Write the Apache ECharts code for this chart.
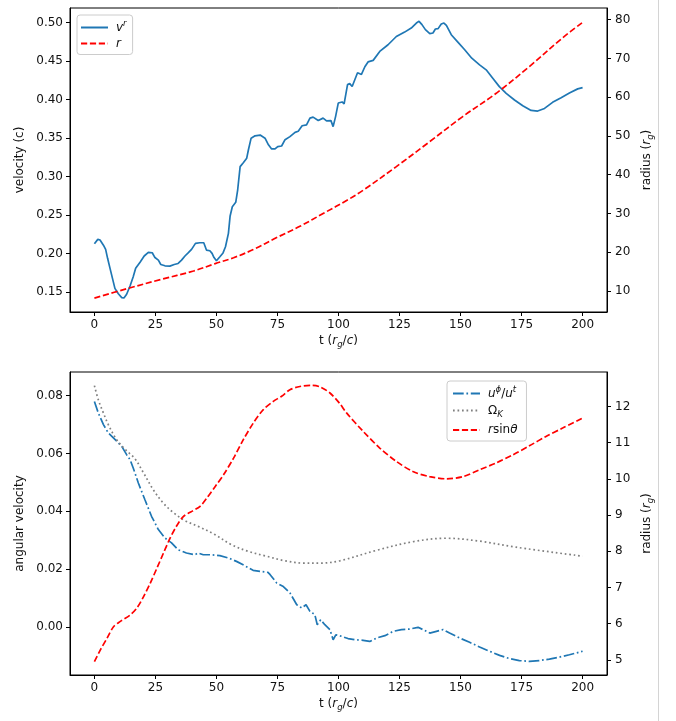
<!DOCTYPE html>
<html>
<head>
<meta charset="utf-8">
<script src="https://cdn.jsdelivr.net/npm/echarts@6/dist/echarts.min.js"></script>
<style>
  html, body { margin: 0; padding: 0; background: #fff; }
  #chart { width: 676px; height: 721px; }
</style>
</head>
<body>
<div id="chart"></div>
<script>
// ---- upper panel: radial velocity and radius vs time ----
const tV = [0, 1.4, 2.3, 3.7, 4.6, 5.4, 6.4, 7.4, 8.4, 9.8,
  11.2, 12.1, 13.2, 14.6, 15.9, 16.9, 18.7, 20.4, 22.1, 23.7,
  24.8, 26.2, 27.2, 28.9, 30.9, 32.7, 34.3, 35.7, 37.1, 38.4,
  39.8, 41.4, 43.2, 44.8, 45.9, 47.3, 48.2, 49.0, 50.0, 51.4,
  52.7, 53.7, 54.9, 55.6, 56.5, 57.9, 58.7, 59.7, 61.0, 62.4,
  63.1, 64.2, 65.8, 67.9, 69.9, 71.3, 72.6, 74.0, 75.1, 76.7,
  78.1, 80.1, 82.2, 83.5, 85.1, 86.9, 88.3, 89.6, 91.7, 93.7,
  95.1, 96.9, 97.8, 98.8, 99.9, 101.5, 102.3, 103.7, 104.6, 105.6,
  107.8, 109.4, 110.8, 112.1, 114.2, 116.9, 120.3, 123.7, 127.1, 129.8,
  131.9, 133.0, 134.2, 135.6, 137.4, 138.7, 139.7, 140.8, 142.1, 143.2,
  144.2, 146.2, 148.9, 151.7, 154.6, 157.8, 160.5, 163.2, 165.9, 168.7,
  172.1, 175.5, 178.9, 181.6, 184.4, 187.7, 191.2, 194.6, 198.0, 200];
const vR = [0.213, 0.2186, 0.2177, 0.211, 0.2056, 0.194, 0.181, 0.168, 0.155, 0.148,
  0.143, 0.1426, 0.1474, 0.158, 0.170, 0.181, 0.189, 0.197, 0.2017, 0.2012,
  0.195, 0.1917, 0.186, 0.1843, 0.1839, 0.186, 0.1873, 0.1917, 0.197, 0.201,
  0.2056, 0.2134, 0.2142, 0.2142, 0.2047, 0.2038, 0.2004, 0.195, 0.1908, 0.196,
  0.201, 0.209, 0.2264, 0.249, 0.261, 0.2667, 0.283, 0.313, 0.318, 0.324,
  0.335, 0.350, 0.353, 0.354, 0.350, 0.3414, 0.336, 0.336, 0.339, 0.3398,
  0.348, 0.352, 0.3575, 0.359, 0.3661, 0.3673, 0.376, 0.3773, 0.373, 0.376,
  0.3724, 0.3728, 0.365, 0.378, 0.3956, 0.397, 0.3944, 0.4195, 0.4208, 0.417,
  0.4349, 0.4327, 0.4427, 0.449, 0.451, 0.4626, 0.4713, 0.482, 0.4877, 0.493,
  0.4995, 0.5017, 0.4974, 0.4909, 0.4857, 0.4865, 0.4917, 0.4922, 0.4982, 0.4995,
  0.4965, 0.4843, 0.4747, 0.4648, 0.4538, 0.4452, 0.4387, 0.4278, 0.4169, 0.4082,
  0.3996, 0.3921, 0.386, 0.3852, 0.3886, 0.3965, 0.4026, 0.4087, 0.414, 0.4156];

const tR = [0, 13.4, 27.0, 40.6, 49.5, 57.0, 65.1, 74.7, 84.2, 93.7,
  104.0, 110.1, 123.7, 137.3, 150.9, 164.6, 178.2, 191.8, 200];
const radius = [8.19, 10.62, 12.95, 15.17, 17.08, 18.6, 20.7, 23.8, 26.7, 30.0,
  33.6, 36.0, 42.1, 48.5, 55.0, 61.0, 67.9, 75.3, 79.3];

// ---- lower panel: angular velocities and cylindrical radius vs time ----
const tU = [0, 1.6, 3.7, 5.7, 8.5, 11.2, 13.2, 14.6, 15.9, 18.0,
  20.7, 23.4, 26.2, 28.9, 31.6, 34.3, 37.7, 41.2, 42.5, 44.6,
  47.9, 51.4, 54.8, 58.2, 61.6, 65.0, 68.4, 71.1, 72.0, 74.7,
  77.4, 80.1, 82.9, 84.9, 86.7, 88.3, 90.3, 91.3, 92.7, 94.4,
  96.5, 97.8, 98.9, 101.2, 103.9, 106.7, 110.1, 112.8, 115.6, 119.0,
  122.4, 125.8, 129.2, 132.6, 134.6, 137.4, 140.1, 142.8, 145.5, 149.6,
  153.7, 157.8, 161.9, 166.0, 170.0, 174.1, 178.2, 182.3, 186.4, 190.5,
  194.6, 200];
const uPhi = [0.0780, 0.0740, 0.0700, 0.0671, 0.0648, 0.0625, 0.0596, 0.0579, 0.0550, 0.0498,
  0.0440, 0.0383, 0.0337, 0.0308, 0.0291, 0.0267, 0.0256, 0.0250, 0.0256, 0.0250,
  0.0250, 0.0247, 0.0239, 0.0227, 0.0212, 0.0196, 0.0192, 0.0189, 0.0181, 0.0152,
  0.0140, 0.0118, 0.0077, 0.0066, 0.0077, 0.0054, 0.0043, 0.0008, 0.0025, 0.0008,
  -0.0009, -0.0044, -0.0027, -0.0032, -0.0040, -0.0044, -0.0046, -0.0050, -0.0038, -0.0030,
  -0.0015, -0.0009, -0.0007, -0.0001, -0.0009, -0.0021, -0.0015, -0.0009, -0.0021, -0.0038,
  -0.0053, -0.0069, -0.0084, -0.0098, -0.0109, -0.0116, -0.0119, -0.0116, -0.0111, -0.0104,
  -0.0096, -0.0084];

const tK = [0, 1.6, 3.7, 5.7, 9.1, 12.5, 16.6, 20.0, 24.1, 28.2,
  32.3, 37.1, 42.5, 49.3, 56.1, 62.9, 70.0, 78.0, 86.0, 92.4,
  100.5, 115.5, 130.5, 144.2, 157.8, 172.8, 200];
const omegaK = [0.0835, 0.0786, 0.0740, 0.0700, 0.0648, 0.0615, 0.0582, 0.0535, 0.0475, 0.0429,
  0.0396, 0.0368, 0.0348, 0.0320, 0.0285, 0.0262, 0.0246, 0.0229, 0.0221, 0.0221,
  0.0229, 0.0265, 0.0295, 0.0307, 0.0297, 0.0276, 0.0245];

const tS = [0, 2.5, 5.2, 7.9, 10.6, 14.7, 17.4, 20.2, 22.9, 25.6,
  28.3, 31.0, 33.8, 36.5, 39.9, 43.3, 46.1, 49.5, 52.9, 57.0,
  61.0, 65.1, 69.2, 73.3, 76.7, 80.1, 84.2, 89.0, 92.4, 96.5,
  100.5, 103.3, 110.1, 116.9, 123.7, 130.5, 137.3, 144.2, 151.0, 157.8,
  164.6, 171.4, 178.2, 185.0, 191.8, 200];
const rSinTheta = [4.95, 5.28, 5.60, 5.92, 6.06, 6.24, 6.43, 6.75, 7.12, 7.53,
  7.95, 8.36, 8.71, 8.96, 9.10, 9.24, 9.47, 9.79, 10.11, 10.57,
  11.08, 11.54, 11.91, 12.14, 12.28, 12.46, 12.55, 12.58, 12.54, 12.37,
  12.08, 11.82, 11.31, 10.85, 10.48, 10.20, 10.06, 10.00, 10.06, 10.25,
  10.44, 10.66, 10.91, 11.17, 11.40, 11.68];

// ---- tick labels ----
const timeTicks = [0, 25, 50, 75, 100, 125, 150, 175, 200];
const velocityTicks = [0.15, 0.20, 0.25, 0.30, 0.35, 0.40, 0.45, 0.50];
const radiusTicks = [10, 20, 30, 40, 50, 60, 70, 80];
const angularTicks = [0.00, 0.02, 0.04, 0.06, 0.08];
const cylRadiusTicks = [5, 6, 7, 8, 9, 10, 11, 12];

const pair = (xs, ys) => xs.map((x, i) => [x, ys[i]]);

const FONT = 'DejaVu Sans';
const FS = 12;
const INK = '#111';
const BLUE = '#1f77b4', RED = '#ff0000', GREY = '#808080';
const LW = 1.7;

const rich = {
  i:   { fontFamily: FONT, fontStyle: 'italic', fontSize: FS, color: INK, lineHeight: 17 },
  up:  { fontFamily: FONT, fontSize: FS, color: INK, lineHeight: 17 },
  sup: { fontFamily: FONT, fontStyle: 'italic', fontSize: 8.5, color: INK, lineHeight: 8, verticalAlign: 'top' },
  sub: { fontFamily: FONT, fontStyle: 'italic', fontSize: 8.5, color: INK, lineHeight: 11, verticalAlign: 'bottom' }
};

function valueAxis(opts) {
  return {
    type: 'value',
    gridIndex: opts.grid,
    position: opts.position,
    min: opts.min, max: opts.max,
    scale: true,
    splitLine: { show: false },
    axisLine: { show: true, onZero: false, lineStyle: { color: '#000', width: 1 } },
    axisTick: { show: true, length: 4, inside: false, customValues: opts.ticks, lineStyle: { color: '#000', width: 1 } },
    axisLabel: {
      customValues: opts.ticks, margin: opts.margin,
      fontFamily: FONT, fontSize: FS, color: INK,
      formatter: opts.fmt
    },
    name: opts.name, nameLocation: 'middle', nameGap: opts.nameGap,
    nameTextStyle: { fontFamily: FONT, fontSize: FS, color: INK, rich: rich }
  };
}

const fmt2 = v => v.toFixed(2);
const fmt0 = v => String(Math.round(v));

const xName = 't ({i|r}{sub|g}{up|/}{i|c})';
const rName = 'radius ({i|r}{sub|g})';

const legendCommon = {
  orient: 'vertical',
  itemWidth: 27, itemHeight: 14,
  borderColor: '#cccccc', borderWidth: 1, borderRadius: 3,
  backgroundColor: 'rgba(255,255,255,0.8)',
  selectedMode: false,
  itemStyle: { opacity: 0, color: 'rgba(0,0,0,0)', borderWidth: 0 },
  textStyle: { fontFamily: FONT, fontSize: FS, color: INK, padding: [0, 0, 0, 3], rich: rich }
};

const chart = echarts.init(document.getElementById('chart'), null, { renderer: 'canvas' });

chart.setOption({
  animation: false,
  backgroundColor: '#fff',
  grid: [
    { left: 70, top: 8, width: 537, height: 304, show: true, borderColor: '#000', borderWidth: 1, backgroundColor: 'transparent' },
    { left: 70, top: 372, width: 537, height: 303, show: true, borderColor: '#000', borderWidth: 1, backgroundColor: 'transparent' }
  ],
  xAxis: [
    valueAxis({ grid: 0, position: 'bottom', min: -10, max: 210, ticks: timeTicks, margin: 7, fmt: fmt0, name: xName, nameGap: 20 }),
    valueAxis({ grid: 1, position: 'bottom', min: -10, max: 210, ticks: timeTicks, margin: 7, fmt: fmt0, name: xName, nameGap: 20 })
  ],
  yAxis: [
    valueAxis({ grid: 0, position: 'left', min: 0.1243, max: 0.519, ticks: velocityTicks, margin: 7, fmt: fmt2, name: 'velocity (c)', nameGap: 37 }),
    valueAxis({ grid: 0, position: 'right', min: 4.6, max: 83.0, ticks: radiusTicks, margin: 8, fmt: fmt0, name: rName, nameGap: 23 }),
    valueAxis({ grid: 1, position: 'left', min: -0.0166, max: 0.0882, ticks: angularTicks, margin: 7, fmt: fmt2, name: 'angular velocity', nameGap: 37 }),
    valueAxis({ grid: 1, position: 'right', min: 4.58, max: 12.95, ticks: cylRadiusTicks, margin: 8, fmt: fmt0, name: rName, nameGap: 23 })
  ],
  legend: [
    Object.assign({}, legendCommon, {
      data: ['vr', 'r'], left: 77, top: 15,
      itemGap: 4, padding: [4, 6, 5, 3],
      formatter: name => ({ vr: '{i|v}{sup|r}', r: '{i|r}' })[name]
    }),
    Object.assign({}, legendCommon, {
      data: ['uphi', 'omk', 'rsin'], left: 447, top: 381,
      itemGap: 5, padding: [4, 9, 5, 5],
      formatter: name => ({
        uphi: '{i|u}{sup|ϕ}{up|/}{i|u}{sup|t}',
        omk: '{up|Ω}{sub|K}',
        rsin: '{i|r}{up|sin}{i|θ}'
      })[name]
    })
  ],
  graphic: [
    { type: 'rect', left: 658, top: 0, shape: { width: 1, height: 721 }, style: { fill: '#d4d4d4' }, silent: true }
  ],
  series: [
    {
      name: 'vr', type: 'line', xAxisIndex: 0, yAxisIndex: 0,
      data: pair(tV, vR), symbol: 'none',
      lineStyle: { color: BLUE, width: LW }, itemStyle: { color: BLUE }
    },
    {
      name: 'r', type: 'line', xAxisIndex: 0, yAxisIndex: 1,
      data: pair(tR, radius), symbol: 'none', smooth: 0.35,
      lineStyle: { color: RED, width: LW, type: [6.2, 2.7] }, itemStyle: { color: RED }
    },
    {
      name: 'uphi', type: 'line', xAxisIndex: 1, yAxisIndex: 2,
      data: pair(tU, uPhi), symbol: 'none',
      lineStyle: { color: BLUE, width: LW, type: [10.7, 2.7, 1.7, 2.7] }, itemStyle: { color: BLUE }
    },
    {
      name: 'omk', type: 'line', xAxisIndex: 1, yAxisIndex: 2,
      data: pair(tK, omegaK), symbol: 'none', smooth: 0.35,
      lineStyle: { color: GREY, width: LW, type: [1.7, 2.8] }, itemStyle: { color: GREY }
    },
    {
      name: 'rsin', type: 'line', xAxisIndex: 1, yAxisIndex: 3,
      data: pair(tS, rSinTheta), symbol: 'none', smooth: 0.3,
      lineStyle: { color: RED, width: LW, type: [6.2, 2.7] }, itemStyle: { color: RED }
    }
  ]
});
</script>
</body>
</html>
